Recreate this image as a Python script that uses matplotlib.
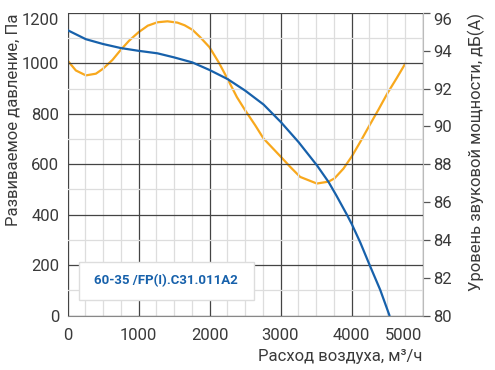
import matplotlib
matplotlib.use("Agg")
import matplotlib.pyplot as plt
from matplotlib.ticker import MultipleLocator, FixedLocator
from matplotlib.patches import Rectangle

plt.rcParams['font.family'] = ['Roboto', 'DejaVu Sans']

# Pressure curve (Pa) vs air flow (m3/h)
flow_p = [0, 259, 500, 750, 1000, 1268, 1500, 1758, 2000, 2254, 2503, 2761,
          3006, 3254, 3512, 3676, 3785, 3935, 4005, 4123, 4254, 4404, 4535]
pressure = [1132, 1096, 1077, 1061, 1050, 1040, 1024, 1004, 974, 938, 892, 837,
            767, 688, 596, 530, 477, 400, 362, 290, 201, 102, 0]

# Sound power level (dB(A)) vs air flow
flow_s = [0, 118, 259, 400, 500, 634, 750, 869, 1000, 1131, 1268, 1408, 1549,
          1650, 1761, 1869, 2000, 2128, 2254, 2386, 2503, 2644, 2761, 3006, 3137,
          3277, 3512, 3676, 3760, 3887, 4005, 4123, 4254, 4380, 4507, 4639, 4760]
sound = [93.49, 92.96, 92.70, 92.79, 93.05, 93.52, 94.05, 94.54, 94.98, 95.33,
         95.51, 95.56, 95.49, 95.35, 95.11, 94.72, 94.19, 93.40, 92.52, 91.55,
         90.85, 90.06, 89.36, 88.39, 87.86, 87.33, 86.98, 87.08, 87.25, 87.77,
         88.42, 89.18, 90.06, 90.89, 91.76, 92.57, 93.34]

x_ticks = [0, 1000, 2000, 3000, 4000, 5000]
y_ticks = [0, 200, 400, 600, 800, 1000, 1200]
y2_ticks = [80, 82, 84, 86, 88, 90, 92, 94, 96]

model_label = "60-35 /FP(I).C31.011A2"
x_label = "Расход воздуха, м³/ч"
y_label = "Развиваемое давление, Па"
y2_label = "Уровень звуковой мощности, дБ(А)"

BLUE = "#1761ab"
ORANGE = "#f8a81c"
TXT = "#3a3a3a"

fig = plt.figure(figsize=(4.95, 3.70), dpi=100)
ax = fig.add_axes([67.5 / 495, (370 - 315.5) / 370, 355 / 495, 302.5 / 370])
ax2 = ax.twinx()

ax.set_xlim(0, 5000)
ax.set_ylim(0, 1200)
ax2.set_ylim(80, 96)

ax.xaxis.set_major_locator(FixedLocator(x_ticks))
ax.xaxis.set_minor_locator(MultipleLocator(250))
ax.yaxis.set_major_locator(FixedLocator(y_ticks))
ax.yaxis.set_minor_locator(MultipleLocator(100))
ax2.yaxis.set_major_locator(FixedLocator(y2_ticks))

ax.set_axisbelow(True)
ax.grid(which='major', color='#444444', linewidth=0.9)
ax.grid(which='minor', color='#dddddd', linewidth=0.9)

ax.tick_params(axis='both', which='both', length=0, colors=TXT, labelsize=12)
ax.tick_params(axis='x', pad=9)
ax.tick_params(axis='y', pad=6)
ax2.tick_params(axis='y', direction='out', length=5, width=0.9, color='#555555',
                labelcolor=TXT, labelsize=12, pad=3)

for s in ['left', 'right', 'bottom', 'top']:
    ax.spines[s].set_visible(False)
    ax2.spines[s].set_visible(False)
ax2.spines['right'].set_visible(True)
ax2.spines['right'].set_color('#bbbbbb')
ax2.spines['left'].set_visible(True)
ax2.spines['left'].set_color('#aaaaaa')
ax2.spines['bottom'].set_visible(True)
ax2.spines['bottom'].set_color('#888888')

ax.plot(flow_p, pressure, color=BLUE, linewidth=1.6, solid_joinstyle='round',
        solid_capstyle='round', zorder=5)
ax2.plot(flow_s, sound, color=ORANGE, linewidth=1.6, solid_joinstyle='round',
         solid_capstyle='round', zorder=3)

ax.set_zorder(ax2.get_zorder() + 1)
ax.patch.set_visible(False)

# Edge label alignment
xl = ax.get_xticklabels()
xl[-1].set_horizontalalignment('right')
yl = ax.get_yticklabels()
yl[-1].set_verticalalignment('top')
y2l = ax2.get_yticklabels()
y2l[-1].set_verticalalignment('top')

ax.set_xlabel(x_label, loc='right', fontsize=12, color=TXT, labelpad=4)
ax.set_ylabel(y_label, loc='top', fontsize=12, color=TXT, labelpad=1)
ax2.set_ylabel(y2_label, loc='top', fontsize=12, color=TXT, labelpad=11)

box = Rectangle((0.032, 0.051), 0.493, 0.126, transform=ax.transAxes,
                facecolor='white', edgecolor='#dddddd', linewidth=1.0, zorder=6)
ax.add_patch(box)
ax.text(0.2785, 0.114, model_label, transform=ax.transAxes, ha='center', va='center',
        fontsize=9.5, fontweight='bold', color=BLUE, zorder=7)

fig.savefig("out.png", dpi=100)
